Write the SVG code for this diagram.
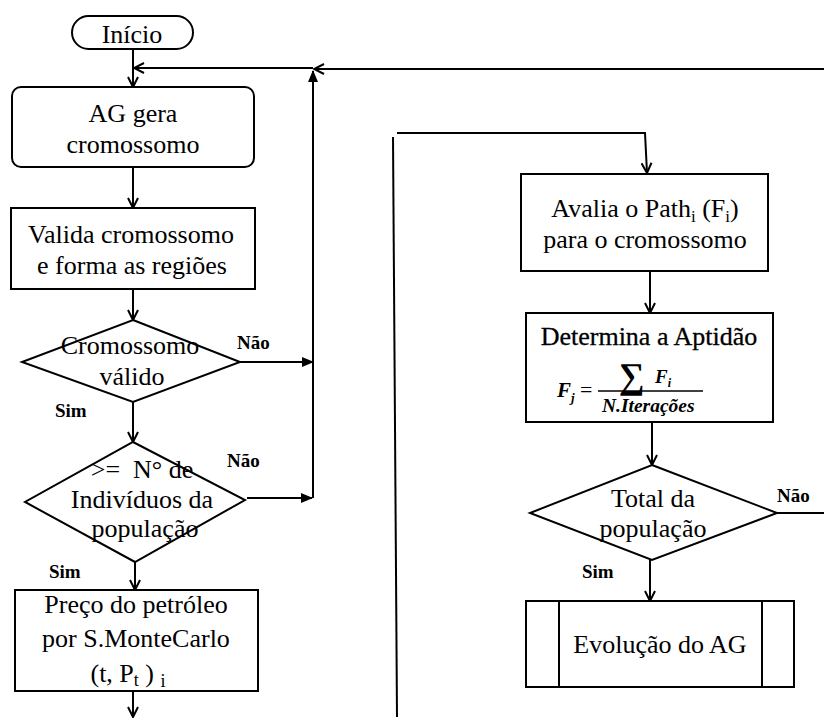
<svg xmlns="http://www.w3.org/2000/svg" width="824" height="718" viewBox="0 0 824 718">
<style>
.s{fill:none;stroke:#000;stroke-width:2}
.b{fill:#fff;stroke:#000;stroke-width:2}
.t{font-size:26px;fill:#000;text-anchor:middle}
.l{font-size:19px;font-weight:bold;fill:#000}
.m{font-style:italic;font-weight:bold;fill:#000}
</style>
<defs>
<marker id="av" viewBox="0 0 12 12" refX="11" refY="6" markerWidth="12" markerHeight="12" markerUnits="userSpaceOnUse" orient="auto">
<path d="M1,1 L11,6 L1,11" fill="none" stroke="#000" stroke-width="2"/>
</marker>
<marker id="af" viewBox="0 0 12 12" refX="11" refY="6" markerWidth="12" markerHeight="12" markerUnits="userSpaceOnUse" orient="auto">
<path d="M0,1 L12,6 L0,11 Z" fill="#000"/>
</marker>
</defs>
<rect width="824" height="718" fill="#fff"/>
<g id="connectors">
<line class="s" x1="133" y1="49" x2="133" y2="87" marker-end="url(#av)"/>
<line class="s" x1="824" y1="69" x2="314" y2="69" marker-end="url(#av)"/>
<line class="s" x1="313" y1="68" x2="134" y2="68" marker-end="url(#av)"/>
<line class="s" x1="313" y1="498" x2="313" y2="71" marker-end="url(#af)"/>
<line class="s" x1="133" y1="167" x2="133" y2="208" marker-end="url(#av)"/>
<line class="s" x1="133" y1="289" x2="133" y2="320" marker-end="url(#av)"/>
<line class="s" x1="240" y1="362" x2="313" y2="362" marker-end="url(#af)"/>
<line class="s" x1="133" y1="402" x2="133" y2="442" marker-end="url(#av)"/>
<line class="s" x1="247" y1="498" x2="312" y2="498" marker-end="url(#af)"/>
<line class="s" x1="135" y1="562" x2="135" y2="590" marker-end="url(#av)"/>
<line class="s" x1="133" y1="691" x2="133" y2="717" marker-end="url(#av)"/>
<line class="s" x1="397" y1="717" x2="393" y2="137"/>
<polyline class="s" points="397,133 645,133 647,173" marker-end="url(#av)"/>
<line class="s" x1="650" y1="263" x2="650" y2="313" marker-end="url(#av)"/>
<line class="s" x1="652" y1="422" x2="652" y2="465" marker-end="url(#av)"/>
<line class="s" x1="777" y1="513" x2="824" y2="513"/>
<line class="s" x1="650" y1="560" x2="650" y2="601" marker-end="url(#av)"/>
<text class="l" font-family="Liberation Serif" x="237" y="349">Não</text>
<text class="l" font-family="Liberation Serif" x="55" y="417">Sim</text>
<text class="l" font-family="Liberation Serif" x="227" y="467">Não</text>
<text class="l" font-family="Liberation Serif" x="49" y="578">Sim</text>
<text class="l" font-family="Liberation Serif" x="777" y="502">Não</text>
<text class="l" font-family="Liberation Serif" x="582" y="578">Sim</text>
</g>
<g id="inicio">
<rect class="b" x="72" y="16" width="121" height="33" rx="16.5"/>
<text class="t" font-family="Liberation Serif" x="132" y="43">Início</text>
</g>
<g id="ag-gera">
<rect class="b" x="12" y="87" width="242" height="80" rx="9"/>
<text class="t" font-family="Liberation Serif" x="133" y="122">AG gera</text>
<text class="t" font-family="Liberation Serif" x="133" y="153">cromossomo</text>
</g>
<g id="valida">
<rect class="b" x="11" y="208" width="244" height="81"/>
<text class="t" font-family="Liberation Serif" x="131" y="243">Valida cromossomo</text>
<text class="t" font-family="Liberation Serif" x="132" y="274">e forma as regiões</text>
</g>
<g id="d1">
<polygon class="b" points="133,320 240,362 133,402 22,362"/>
<text class="t" font-family="Liberation Serif" x="130" y="354">Cromossomo</text>
<text class="t" font-family="Liberation Serif" x="132" y="385">válido</text>
</g>
<g id="d2">
<polygon class="b" points="133,442 245,500 135,562 25,502"/>
<text class="t" font-family="Liberation Serif" x="142" y="478" xml:space="preserve">&gt;=  N° de</text>
<text class="t" font-family="Liberation Serif" x="142" y="508">Indivíduos da</text>
<text class="t" font-family="Liberation Serif" x="145" y="537">população</text>
</g>
<g id="preco">
<rect class="b" x="15" y="590" width="243" height="101"/>
<text class="t" font-family="Liberation Serif" x="136" y="613">Preço do petróleo</text>
<text class="t" font-family="Liberation Serif" x="136" y="647">por S.MonteCarlo</text>
<text class="t" font-family="Liberation Serif" x="128" y="682">(t, P<tspan font-size="18" dy="4">t</tspan><tspan dy="-4"> ) </tspan><tspan font-size="18" dy="5">i</tspan></text>
</g>
<g id="avalia">
<rect class="b" x="521" y="174" width="247" height="97"/>
<text class="t" font-family="Liberation Serif" x="645" y="217">Avalia o Path<tspan font-size="17" dy="5">i</tspan><tspan dy="-5"> (F</tspan><tspan font-size="17" dy="5">i</tspan><tspan dy="-5">)</tspan></text>
<text class="t" font-family="Liberation Serif" x="645" y="248">para o cromossomo</text>
</g>
<g id="determina">
<rect class="b" x="526" y="313" width="247" height="109"/>
<text class="t" font-family="Liberation Serif" x="649" y="345" stroke="#000" stroke-width="0.3">Determina a Aptidão</text>
<text class="m" font-family="Liberation Serif" x="557" y="397" font-size="21">F<tspan font-size="13" dy="5">j</tspan></text>
<text font-family="Liberation Serif" x="580" y="397" font-size="22">=</text>
<line x1="598" y1="391" x2="703" y2="391" stroke="#000" stroke-width="1.5"/>
<text font-family="Liberation Serif" font-weight="bold" x="619" y="388" font-size="36">∑</text>
<text class="m" font-family="Liberation Serif" x="655" y="383" font-size="19">F<tspan font-size="12" dy="4">i</tspan></text>
<text class="m" font-family="Liberation Serif" x="602" y="412" font-size="19.5">N.Iterações</text>
</g>
<g id="d3">
<polygon class="b" points="652,465 777,513 652,560 530,513"/>
<text class="t" font-family="Liberation Serif" x="653" y="507">Total da</text>
<text class="t" font-family="Liberation Serif" x="653" y="537">população</text>
</g>
<g id="evolucao">
<rect class="b" x="526" y="601" width="268" height="86"/>
<line class="s" x1="559" y1="601" x2="559" y2="687"/>
<line class="s" x1="762" y1="601" x2="762" y2="687"/>
<text class="t" font-family="Liberation Serif" x="660" y="653">Evolução do AG</text>
</g>
</svg>
